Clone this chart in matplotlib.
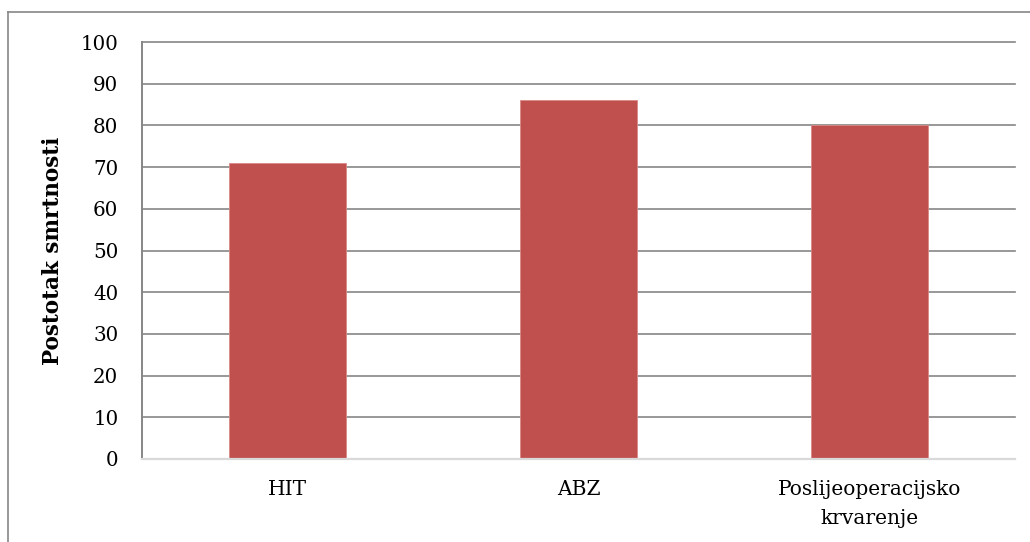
import matplotlib.pyplot as plt
from matplotlib.lines import Line2D

categories = ['HIT', 'ABZ', 'Poslijeoperacijsko\nkrvarenje']
values = [71, 86, 80]
yticks = [0, 10, 20, 30, 40, 50, 60, 70, 80, 90, 100]

plt.rcParams['font.family'] = ['DejaVu Serif']

W, H = 1030, 542
fig = plt.figure(figsize=(W / 100, H / 100), dpi=100)
ax = fig.add_axes([142 / W, 1 - 459 / H, (1015 - 142) / W, (459 - 42) / H])

x = range(len(categories))
ax.bar(x, values, width=0.4, color='#C0504D', edgecolor='#D98A88', linewidth=0.6, zorder=3)

ax.set_xlim(-0.5, len(categories) - 0.5)
ax.set_ylim(0, 100)
ax.set_yticks(yticks)
ax.set_xticks(list(x))
ax.set_xticklabels(categories, fontsize=14.5, linespacing=1.7)
ax.tick_params(axis='y', length=0, pad=17, labelsize=14.3)
ax.tick_params(axis='x', length=0, pad=15)
ax.yaxis.grid(True, color='#868686', linewidth=1.2, zorder=0)
ax.set_axisbelow(True)
for gl in ax.get_ygridlines():
    gl.set_clip_on(False)

for s in ['top', 'right']:
    ax.spines[s].set_visible(False)
ax.spines['left'].set_color('#868686')
ax.spines['left'].set_linewidth(1.4)
ax.spines['bottom'].set_color('#D9D9D9')
ax.spines['bottom'].set_linewidth(1.6)
ax.spines['bottom'].set_zorder(4)

ax.set_ylabel('Postotak smrtnosti', fontsize=15.5, fontweight='bold', labelpad=12)

# outer chart border (left and top visible)
fig.add_artist(Line2D([8 / W, 8 / W], [0, 1 - 12 / H], color='#868686', linewidth=1.2))
fig.add_artist(Line2D([8 / W, 1], [1 - 12 / H, 1 - 12 / H], color='#868686', linewidth=1.2))

fig.savefig('out.png', dpi=100)
